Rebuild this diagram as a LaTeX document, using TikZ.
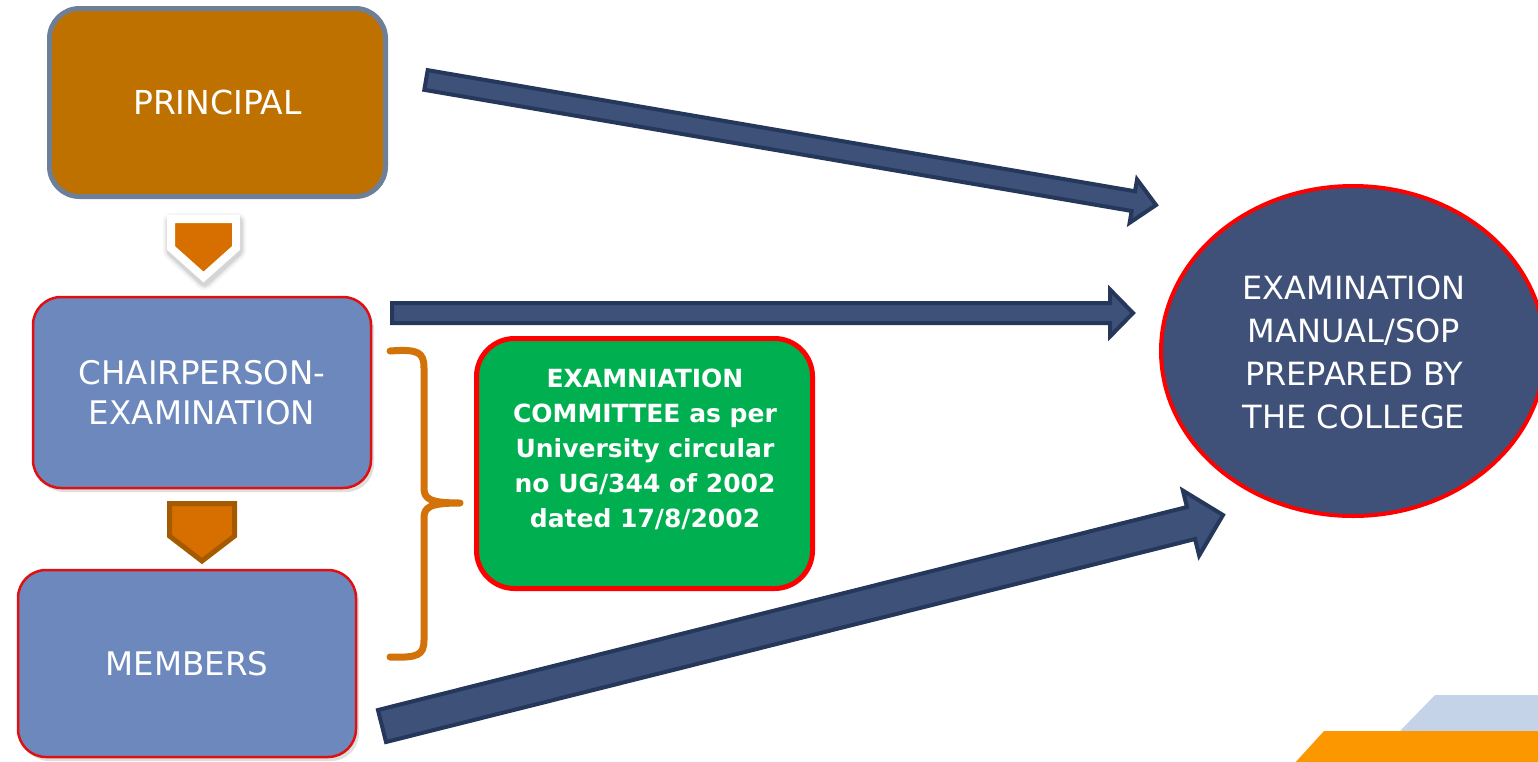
\documentclass[tikz,border=0pt]{standalone}
\usepackage{fontspec}
\setmainfont{DejaVu Sans}
\usetikzlibrary{calc,shadows}
\definecolor{princfill}{HTML}{BF7100}
\definecolor{princline}{HTML}{6E7F99}
\definecolor{bluebox}{HTML}{6C88BC}
\definecolor{boxred}{HTML}{E01010}
\definecolor{greenbox}{HTML}{00B050}
\definecolor{ellfill}{HTML}{3F5178}
\definecolor{arrfill}{HTML}{3E5178}
\definecolor{arrline}{HTML}{25375A}
\definecolor{dnorange}{HTML}{D66F00}
\definecolor{dnline}{HTML}{A65A00}
\definecolor{bracecol}{HTML}{D4720A}
\definecolor{decoblue}{HTML}{C5D3E8}
\definecolor{decoorange}{HTML}{FD9700}
\tikzset{
  princbox/.style={draw=princline, line width=5pt, fill=princfill, rounded corners=30pt,
    text=white, font=\fontsize{33}{40}\selectfont, align=center},
  bluerbox/.style={draw=boxred, line width=2.5pt, fill=bluebox, rounded corners=28pt,
    text=white, font=\fontsize{32.5}{40}\selectfont, align=center,
    drop shadow={opacity=0.25, shadow xshift=3pt, shadow yshift=-4pt}},
  greenrbox/.style={draw=red, line width=5pt, fill=greenbox, rounded corners=38pt},
  greentext/.style={text=white, font=\fontsize{25}{35}\selectfont\bfseries, align=center},
  elltext/.style={text=white, font=\fontsize{32}{43}\selectfont, align=center},
  blockarr/.style={fill=arrfill, draw=arrline, line width=4pt, line join=miter},
  bracestyle/.style={draw=bracecol, line width=7pt, line cap=round, line join=round},
  pentshadow/.style={draw=black, fill=black, line join=round},
}
\newcommand\myblockarrow[5]{%
  \coordinate (ba-base) at ($(#2)!#5!(#1)$);
  \filldraw[blockarr] ($(#1)!#3!90:(#2)$) -- ($(ba-base)!#3!-90:(#1)$) -- ($(ba-base)!#4!-90:(#1)$)
    -- (#2) -- ($(ba-base)!#4!90:(#1)$) -- ($(ba-base)!#3!90:(#1)$) -- ($(#1)!#3!-90:(#2)$) -- cycle;
}
\begin{document}
\begin{tikzpicture}[x=1pt,y=-1pt]
\useasboundingbox (0,0) rectangle (1538,761);

% bottom-right decoration
\fill[decoblue] (1435,695) -- (1545,695) -- (1545,731) -- (1400,731) -- cycle;
\fill[decoorange] (1324,731) -- (1545,731) -- (1545,765) -- (1293,765) -- cycle;

% boxes
\node[princbox, minimum width=336pt, minimum height=188pt] (principal) at (217.5,102.5) {PRINCIPAL};
\node[bluerbox, minimum width=338pt, minimum height=191pt] (chair) at (202,392.5) {CHAIRPERSON-\\EXAMINATION};
\node[bluerbox, minimum width=338pt, minimum height=187pt] (members) at (187,663.5) {MEMBERS};

% down arrows
\foreach \w/\o in {18/0.04, 14/0.06, 11/0.08} {
  \filldraw[pentshadow, line width=\w pt, opacity=\o]
    (172,222) -- (237,222) -- (237,251) -- (204.5,281) -- (172,251) -- cycle;
}
\filldraw[draw=white, line width=8pt, fill=dnorange, line join=miter]
  (171,219) -- (236,219) -- (236,248) -- (203.5,277) -- (171,248) -- cycle;
\filldraw[draw=dnline, line width=5pt, fill=dnorange, line join=miter]
  (169.5,503.5) -- (234.5,503.5) -- (234.5,536) -- (202,561) -- (169.5,536) -- cycle;

% brace
\draw[bracestyle] (390,351) .. controls (418,349) and (424,352) .. (424,368) -- (424,488)
  .. controls (424,499) and (430,503) .. (460,503)
  .. controls (430,503) and (424,507) .. (424,518) -- (424,640)
  .. controls (424,655) and (418,658) .. (390,657);

% green box
\node[greenrbox, minimum width=336pt, minimum height=250pt] (committee) at (644.5,463.5) {};
\node[greentext] (committeetext) at (645,449) {EXAMNIATION\\COMMITTEE as per\\University circular\\no UG/344 of 2002\\dated 17/8/2002};

% ellipse
\draw[draw=red, line width=4pt, fill=ellfill] (1353,351) ellipse [x radius=192pt, y radius=165pt];
\node[elltext] (manual) at (1354,352) {EXAMINATION\\MANUAL/SOP\\PREPARED BY\\THE COLLEGE};

% block arrows
\coordinate (a1s) at (426,80);
\coordinate (a1e) at (1156,205);
\coordinate (a2s) at (392,313);
\coordinate (a2e) at (1133,313);
\coordinate (a3s) at (382,726);
\coordinate (a3e) at (1223,515);
\myblockarrow{a1s}{a1e}{10pt}{22pt}{23pt}
\myblockarrow{a2s}{a2e}{10pt}{23.5pt}{23pt}
\myblockarrow{a3s}{a3e}{16.5pt}{33.5pt}{33pt}
\end{tikzpicture}
\end{document}
